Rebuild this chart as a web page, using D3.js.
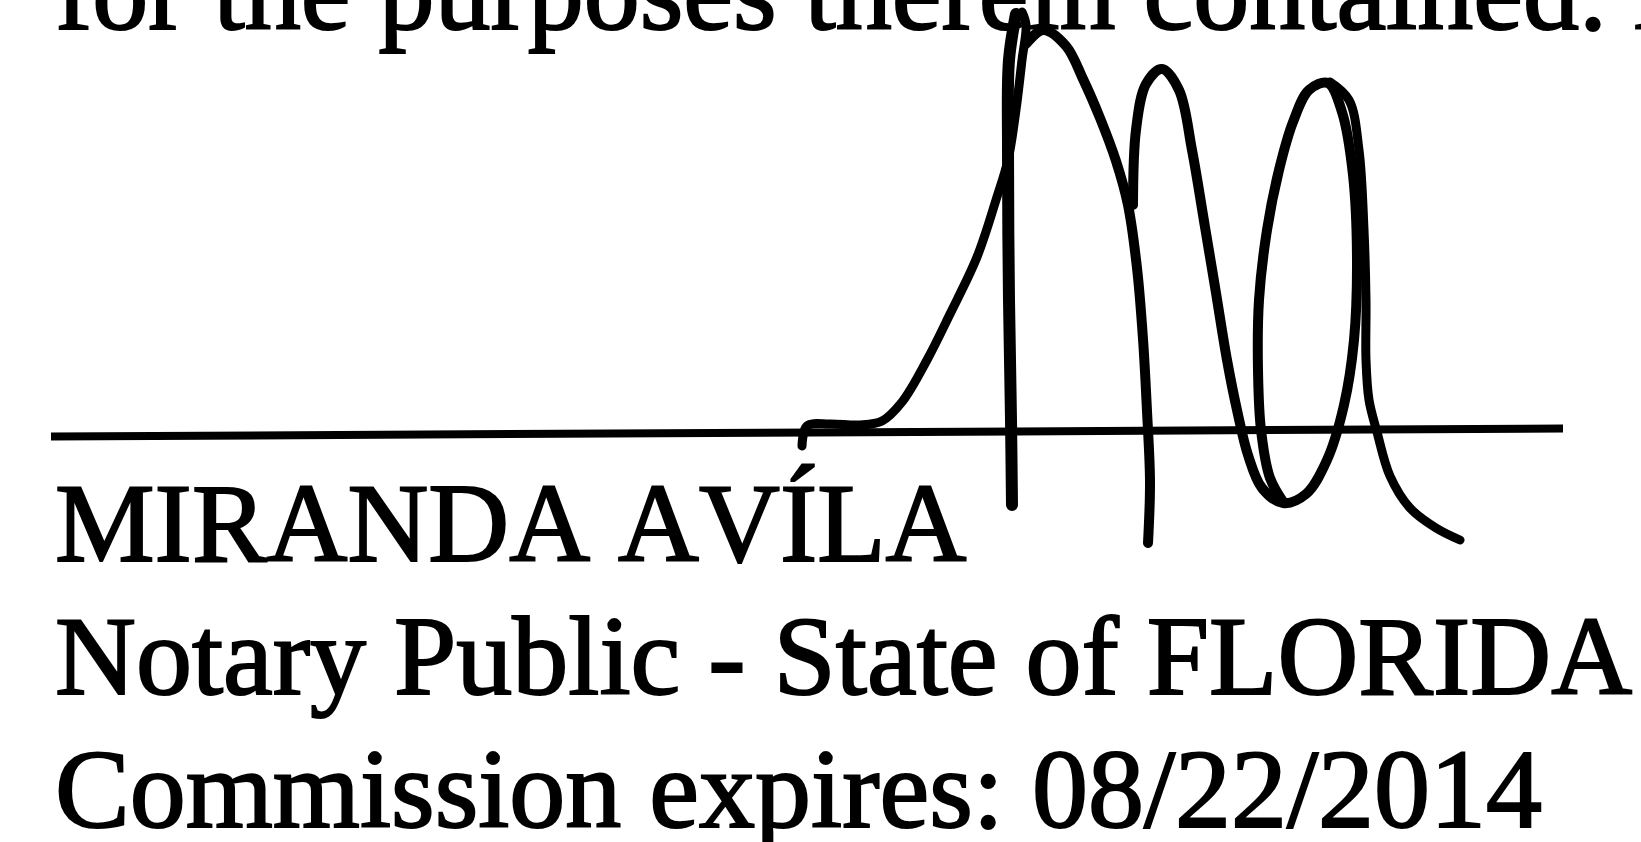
<!DOCTYPE html>
<html>
<head>
<meta charset="utf-8">
<script src="https://cdn.jsdelivr.net/npm/d3@7"></script>
<style>
  html, body { margin: 0; padding: 0; background: #ffffff; overflow: hidden; }
  svg { display: block; }
</style>
</head>
<body>
<svg id="notary-svg" width="1641" height="842"></svg>
<script>
// Text of the page, one entry per typed line (blank lines keep the spacing)
var textLines = [
  "for the purposes therein contained. A",
  "",
  "",
  "",
  "MIRANDA AV\u00CDLA",
  "Notary Public - State of FLORIDA",
  "Commission expires: 08/22/2014"
]

// Signature line, end points
var ruleLine = [[51, 436.5], [1563, 428.5]]

// Signature strokes, points
var riseStroke = [[802, 446], [807, 426], [830, 424], [860, 425], [882, 421], [902, 402], [927, 360],
  [950, 314], [977, 257], [996, 200], [1008, 160], [1016, 110], [1022, 60], [1026, 25], [1022, 12]]
var stemStroke = [[1016, 14], [1009, 60], [1008, 150], [1009, 300], [1011, 420], [1012, 505]]
var archStroke = [[1026, 44], [1043, 30], [1066, 46], [1083, 79], [1100, 118], [1116, 161], [1128, 205],
  [1137, 268], [1143, 339], [1147, 411], [1150, 482], [1148, 543]]
var loopStroke = [[1133, 205], [1136, 130], [1146, 84], [1162, 69], [1179, 90], [1192, 150], [1205, 227],
  [1216, 293], [1227, 360], [1237, 410], [1248, 455], [1262, 488], [1283, 503], [1306, 494], [1327, 460],
  [1344, 405], [1354, 340], [1357, 260], [1353, 175], [1342, 112], [1328, 83], [1309, 90], [1293, 122],
  [1279, 170], [1267, 230], [1259, 300], [1258, 370], [1261, 430], [1270, 478], [1284, 503]]
var tailStroke = [[1330, 82], [1349, 100], [1359, 150], [1364, 230], [1366, 300], [1366, 360], [1369, 400],
  [1377, 432], [1390, 476], [1410, 508], [1436, 528], [1460, 540]]

var width = 1641
var height = 842

var svg = d3.select('#notary-svg')

svg.append("rect")
    .attr("width", width)
    .attr("height", height)
    .attr("fill", "#ffffff");

// scan coordinates -> page pixels
var x = d3.scaleLinear().domain([0, 1641]).range([0, width])
var y = d3.scaleLinear().domain([0, 842]).range([0, height])

// baseline of each typed line
var lineY = d3.scaleLinear().domain([0, 1]).range([29, 29 + 133])

svg.selectAll("text.line")
    .data(textLines)
    .join("text")
    .attr("class", "line")
    .attr("x", x(55))
    .attr("y", function(d, i) { return lineY(i); })
    .text(function(d) { return d; })
    .style("font-family", "'Liberation Serif', 'DejaVu Serif', serif")
    .style("font-size", "112px")
    .style("font-kerning", "none")
    .style("fill", "#000")
    .style("stroke", "#000")
    .style("stroke-width", "2px");

// Signature line
svg.append("line")
    .style("stroke", "#000")
    .style("stroke-width", 8)
    .attr("x1", x(ruleLine[0][0]))
    .attr("y1", y(ruleLine[0][1]))
    .attr("x2", x(ruleLine[1][0]))
    .attr("y2", y(ruleLine[1][1]));

// Signature
var pen = d3.line()
    .x(function(d) { return x(d[0]); })
    .y(function(d) { return y(d[1]); })
    .curve(d3.curveCatmullRom.alpha(0.5));

var strokes = [
  {pts: riseStroke, w: 9},
  {pts: stemStroke, w: 12},
  {pts: archStroke, w: 10},
  {pts: loopStroke, w: 10},
  {pts: tailStroke, w: 9}
]

svg.selectAll("path.sig")
    .data(strokes)
    .join("path")
    .attr("class", "sig")
    .attr("d", function(d) { return pen(d.pts); })
    .attr("fill", "none")
    .attr("stroke", "#000")
    .attr("stroke-width", function(d) { return d.w; })
    .attr("stroke-linecap", "round")
    .attr("stroke-linejoin", "round");
</script>
</body>
</html>
